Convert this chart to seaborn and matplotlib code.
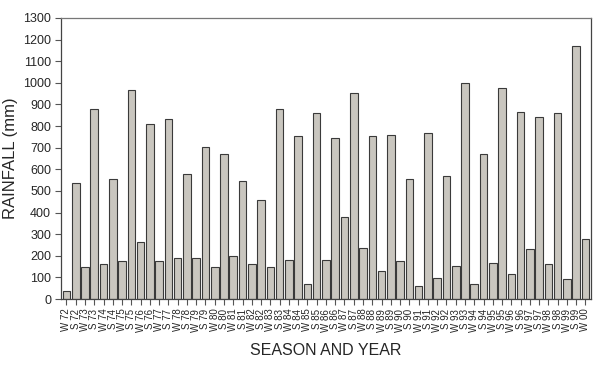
import numpy as np
import pandas as pd
import matplotlib
matplotlib.use("Agg")
import matplotlib.pyplot as plt
import seaborn as sns

# ── data ──
years = ['72', '73', '74', '75', '76', '77', '78', '79', '80', '81', '82', '83', '84', '85',
         '86', '87', '88', '89', '90', '91', '92', '93', '94', '95', '96', '97', '98', '99', '00']
winter_mm = [38, 146, 161, 174, 265, 178, 188, 191, 149, 198, 161, 150, 179, 68, 179,
             381, 235, 129, 178, 60, 96, 155, 68, 165, 117, 231, 163, 94, 278]
summer_mm = [535, 881, 555, 968, 808, 834, 580, 703, 671, 548, 460, 880, 754, 861,
             744, 951, 755, 760, 554, 769, 567, 1000, 671, 974, 866, 841, 861, 1172]
y_ticks = list(range(0, 1301, 100))

# interleave W / S seasons: W72, S72, W73, S73 ... W00
seasons, rain = [], []
for i, yr in enumerate(years):
    seasons.append('W ' + yr)
    rain.append(winter_mm[i])
    if i < len(summer_mm):
        seasons.append('S ' + yr)
        rain.append(summer_mm[i])
df = pd.DataFrame({'season': seasons, 'rain': rain})

sns.set_theme(style="ticks")
plt.rcParams['font.family'] = ['Liberation Sans', 'DejaVu Sans']

fig = plt.figure(figsize=(5.97, 3.66), dpi=100)
ax = fig.add_axes([0.102, 0.183, 0.888, 0.768])

sns.barplot(data=df, x='season', y='rain', color='#c9c6bf', saturation=1,
            edgecolor='#3a3a3a', linewidth=0.8, width=0.82, ax=ax)

ax.set_ylim(0, 1300)
ax.set_yticks(y_ticks)
ax.set_xlim(-0.6, len(df) - 0.4)
ax.tick_params(axis='y', labelsize=9, length=4, width=0.8, color='#555555', pad=3)
ax.tick_params(axis='x', labelsize=7, length=4, width=0.8, color='#555555',
               labelrotation=90, pad=3)
for s in ax.spines.values():
    s.set_visible(True)
    s.set_linewidth(0.9)
    s.set_color('#444444')
ax.spines['top'].set_color('#777777')

ax.set_xlabel('SEASON AND YEAR', fontsize=11.5, labelpad=8)
ax.set_ylabel('RAINFALL (mm)', fontsize=12, labelpad=4)

fig.savefig('out.png', dpi=100)
